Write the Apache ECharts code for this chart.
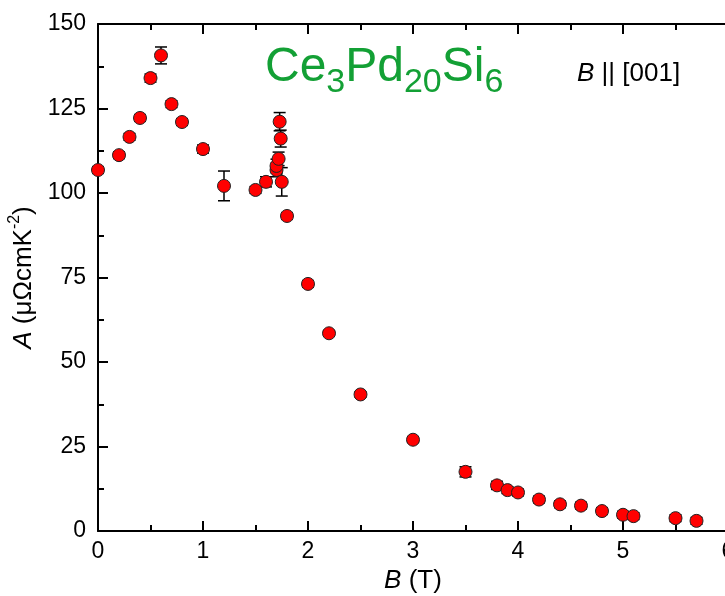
<!DOCTYPE html>
<html><head><meta charset="utf-8">
<script src="https://cdn.jsdelivr.net/npm/echarts@6/dist/echarts.min.js"></script>
<style>html,body{margin:0;padding:0;background:#fff}#c{width:725px;height:596px}</style>
</head><body><div id="c"></div>
<script>
const fieldB = [0, 0.2, 0.3, 0.4, 0.5, 0.6, 0.7, 0.8, 1.0, 1.2, 1.5, 1.6, 1.7, 1.7, 1.72, 1.73, 1.74, 1.75, 1.8, 2.0, 2.2, 2.5, 3.0, 3.5, 3.8, 3.9, 4.0, 4.2, 4.4, 4.6, 4.8, 5.0, 5.1, 5.5, 5.7];
const coefA = [106.8, 111.2, 116.6, 122.2, 134.0, 140.7, 126.3, 121.0, 113.0, 102.1, 100.9, 103.3, 106.8, 108.0, 110.1, 121.1, 116.1, 103.3, 93.2, 73.1, 58.5, 40.4, 27.0, 17.5, 13.5, 12.1, 11.4, 9.3, 7.9, 7.5, 5.9, 4.8, 4.4, 3.8, 3.0];
const errA = [1.0, 1.0, 1.0, 1.0, 1.2, 2.5, 1.0, 1.0, 1.2, 4.4, 1.0, 1.5, 2.0, 2.0, 2.0, 2.7, 2.5, 4.2, 1.0, 1.0, 0.8, 0.8, 0.8, 1.5, 1.2, 1.0, 1.0, 1.0, 1.0, 1.0, 1.0, 1.0, 1.0, 1.0, 1.0];
const xTicks = [0, 1, 2, 3, 4, 5, 6];
const yTicks = [0, 25, 50, 75, 100, 125, 150];

const pts = fieldB.map((b, i) => [b, coefA[i]]);
const errData = fieldB.map((b, i) => [b, coefA[i] - errA[i], coefA[i] + errA[i]]);

const chart = echarts.init(document.getElementById('c'));
const font = 'Liberation Sans, Arial, sans-serif';
const green = '#13a035';
function axisCommon() {
  return {
    axisLine: {show: true, lineStyle: {color: '#000', width: 2}},
    axisTick: {show: true, inside: true, length: 10, lineStyle: {color: '#000', width: 2}},
    minorTick: {show: true, splitNumber: 2, length: 6, lineStyle: {color: '#000', width: 2}},
    splitLine: {show: false},
    minorSplitLine: {show: false}
  };
}
function piece(txt, left, top, size) {
  return {type: 'text', left: left, top: top, z: 10,
    style: {text: txt, fontSize: size, fontFamily: font, fill: green}};
}
chart.setOption({
  animation: false,
  grid: {left: 98, width: 630, top: 24, bottom: 65, containLabel: false, outerBoundsMode: 'none'},
  xAxis: [
    Object.assign(axisCommon(), {
      type: 'value', min: xTicks[0], max: xTicks[xTicks.length - 1], interval: 1,
      position: 'bottom',
      axisLabel: {color: '#000', fontSize: 23, fontFamily: font, margin: 9},
      name: '{i|B}{n| (T)}', nameLocation: 'middle', nameGap: 35,
      nameTextStyle: {color: '#000', fontSize: 26, fontFamily: font,
        rich: {i: {fontStyle: 'italic', fontSize: 26, fontFamily: font, color: '#000'},
               n: {fontSize: 26, fontFamily: font, color: '#000'}}}
    }),
    Object.assign(axisCommon(), {
      type: 'value', min: xTicks[0], max: xTicks[xTicks.length - 1], interval: 1,
      position: 'top', axisLabel: {show: false}
    })
  ],
  yAxis: [
    Object.assign(axisCommon(), {
      type: 'value', min: yTicks[0], max: yTicks[yTicks.length - 1], interval: 25,
      position: 'left',
      axisLabel: {color: '#000', fontSize: 23, fontFamily: font, margin: 12},
      name: '{i|A}{n| (μΩcmK}{s|-2}{n|)}', nameLocation: 'middle', nameGap: 56, nameRotate: 90,
      nameTextStyle: {color: '#000', fontSize: 26, fontFamily: font,
        rich: {
          i: {fontStyle: 'italic', fontSize: 26, fontFamily: font, color: '#000', lineHeight: 30, verticalAlign: 'bottom'},
          n: {fontSize: 26, fontFamily: font, color: '#000', lineHeight: 30, verticalAlign: 'bottom'},
          s: {fontSize: 16, fontFamily: font, color: '#000', lineHeight: 30, verticalAlign: 'top'}
        }}
    })
  ],
  graphic: [
    piece('Ce', 265, 44, 48),
    piece('3', 326.3, 66, 34),
    piece('Pd', 345.2, 44, 48),
    piece('20', 403.9, 66, 34),
    piece('Si', 441.7, 44, 48),
    piece('6', 484.4, 66, 34),
    {type: 'text', left: 577, top: 61, z: 10,
     style: {text: '{i|B}{n| || [001]}',
       rich: {i: {fontStyle: 'italic', fontSize: 26, fontFamily: font, fill: '#000'},
              n: {fontSize: 26, fontFamily: font, fill: '#000'}}}}
  ],
  series: [
    {
      type: 'custom', xAxisIndex: 0, yAxisIndex: 0, z: 3,
      data: errData,
      renderItem: function (params, api) {
        const x = api.value(0);
        const lo = api.coord([x, api.value(1)]);
        const hi = api.coord([x, api.value(2)]);
        const w = 6;
        const st = {stroke: '#000', lineWidth: 1.5};
        return {type: 'group', children: [
          {type: 'line', shape: {x1: lo[0], y1: lo[1], x2: hi[0], y2: hi[1]}, style: st},
          {type: 'line', shape: {x1: lo[0] - w, y1: lo[1], x2: lo[0] + w, y2: lo[1]}, style: st},
          {type: 'line', shape: {x1: hi[0] - w, y1: hi[1], x2: hi[0] + w, y2: hi[1]}, style: st}
        ]};
      }
    },
    {
      type: 'scatter', xAxisIndex: 0, yAxisIndex: 0, z: 4,
      data: pts, symbol: 'circle', symbolSize: 13,
      itemStyle: {color: '#ff0000', borderColor: '#222', borderWidth: 1, opacity: 1}
    }
  ]
});
</script></body></html>
